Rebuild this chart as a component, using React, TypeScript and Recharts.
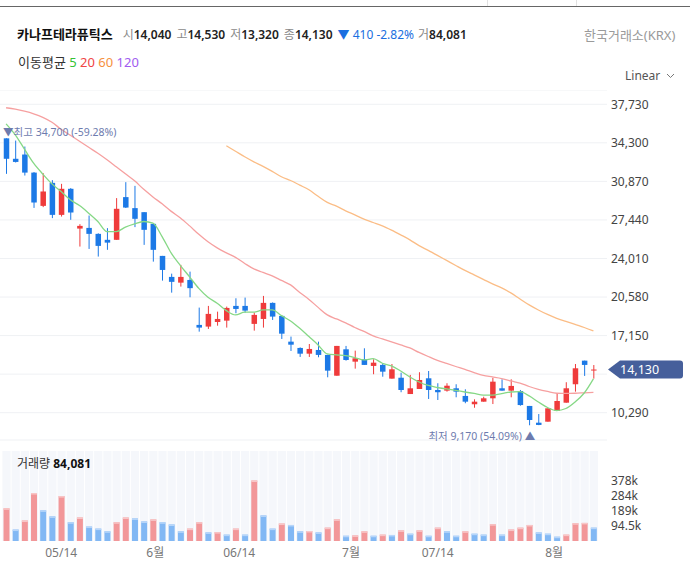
import { ComposedChart, Bar, Line, XAxis, YAxis, CartesianGrid, ReferenceDot, ReferenceLine } from 'recharts';

const RED = '#ef3b3b';
const BLUE = '#1c79e6';
const FONT = '"Noto Sans", "Noto Sans CJK KR", sans-serif';

const opens = [34700, 32880, 33260, 31650, 28690, 30740, 27890, 30210, 26670, 26730, 26200, 25670, 25670, 29470, 28490, 28130, 27090, 24240, 22370, 21860, 22100, 18100, 17950, 18360, 18480, 19790, 19790, 18190, 18630, 20060, 18900, 16610, 16050, 15540, 15870, 15430, 13580, 15930, 14830, 15040, 14450, 14540, 13320, 13400, 11950, 12400, 13350, 12310, 12250, 12460, 11780, 11040, 11270, 11570, 12460, 12250, 12220, 10890, 9400, 9490, 10440, 11180, 12820, 14920, 14040];
const highs = [34700, 34500, 33970, 31700, 31600, 30980, 30650, 30270, 27060, 27830, 26250, 26710, 29380, 30800, 30470, 28130, 27090, 24240, 22660, 23440, 22840, 19640, 19790, 19280, 19730, 20470, 20530, 19190, 20680, 20100, 18950, 17060, 16100, 16400, 16610, 15450, 16230, 16230, 15810, 16020, 15040, 14690, 14620, 13850, 13650, 13890, 14000, 12910, 12910, 12820, 12370, 11480, 11710, 13400, 13260, 13260, 12310, 10890, 10170, 10680, 12020, 13000, 14620, 14920, 14530];
const lows = [31540, 32550, 31390, 28510, 28580, 27600, 27740, 27450, 25070, 24860, 24180, 24780, 25670, 28500, 26800, 25220, 23730, 22040, 20970, 21510, 20560, 17500, 17740, 18030, 17860, 19140, 19190, 17590, 17860, 18540, 16850, 15780, 15250, 15250, 15220, 13440, 13580, 14920, 14210, 14540, 13710, 13490, 13320, 12110, 11950, 12400, 11510, 11420, 12160, 11660, 11130, 10730, 11270, 11060, 12250, 11660, 10910, 9170, 9180, 9490, 10440, 11180, 12160, 13560, 13320];
const closes = [32880, 32600, 31650, 28990, 29970, 27890, 30210, 28100, 26910, 26200, 25130, 25420, 28430, 28540, 27540, 26560, 24780, 22990, 21930, 22370, 21370, 17860, 19080, 18630, 19610, 19520, 19370, 18990, 20060, 18840, 17320, 16340, 15540, 15960, 15430, 14030, 16230, 14980, 15130, 14540, 14740, 13940, 14150, 12310, 12460, 13200, 12310, 12110, 12690, 12160, 11270, 11270, 11570, 13050, 12250, 12670, 10970, 9640, 9200, 10680, 11330, 12460, 14240, 14540, 14130];
const volumes = [206000, 72000, 129000, 302000, 193000, 155000, 283000, 118000, 148000, 91000, 78000, 61000, 118000, 148000, 142000, 123000, 136000, 118000, 104000, 61000, 78000, 118000, 54000, 56000, 40000, 78000, 40000, 381000, 161000, 78000, 110000, 101000, 61000, 63000, 54000, 84000, 136000, 33000, 35000, 61000, 33000, 40000, 38000, 67000, 46000, 67000, 33000, 84000, 61000, 33000, 61000, 46000, 40000, 106000, 40000, 72000, 84000, 101000, 54000, 46000, 27000, 40000, 112000, 114000, 84081];

const ma5 = [35990, 35010, 33740, 32490, 31520, 30650, 29970, 29230, 28720, 28040, 27300, 26400, 26400, 26800, 27090, 27300, 27150, 25960, 24480, 23380, 22370, 21350, 20560, 20030, 19370, 18990, 19230, 19230, 19430, 19430, 18930, 18450, 17800, 17060, 16320, 15520, 15430, 15360, 15190, 14980, 15100, 14690, 14450, 14000, 13470, 13020, 12710, 12530, 12400, 12270, 12130, 12000, 11860, 11860, 11980, 12130, 12160, 11780, 11240, 10750, 10480, 10660, 11240, 12040, 13300];
const ma20 = [37420, 37290, 37110, 36880, 36570, 36130, 35500, 34970, 34440, 33900, 33370, 32790, 32170, 31540, 30920, 30160, 29490, 28870, 28200, 27620, 26910, 26160, 25490, 24950, 24510, 24110, 23570, 23080, 22770, 22460, 22060, 21660, 20990, 20370, 19660, 18990, 18630, 18280, 17870, 17520, 17120, 16850, 16580, 16320, 16050, 15650, 15290, 14950, 14670, 14400, 14140, 13850, 13600, 13470, 13330, 13110, 12930, 12620, 12370, 12180, 12020, 12000, 12020, 12060, 12100];
const ma60Start = 24;
const ma60 = [34040, 33550, 33060, 32610, 32210, 31760, 31280, 30950, 30540, 30120, 29540, 29000, 28670, 28250, 27890, 27510, 27210, 26910, 26530, 26110, 25670, 25150, 24730, 24290, 23840, 23390, 22950, 22550, 22150, 21750, 21390, 20950, 20410, 19880, 19430, 19030, 18690, 18410, 18140, 17870, 17560];

const priceTicks = [10290, 13720, 17150, 20580, 24010, 27440, 30870, 34300, 37730];
const volTicks = [94500, 189000, 283500, 378000];
const dateTicks = [6.4, 16.5, 25.5, 37.5, 46.8, 59.3];
const dateLabels = ['05/14', '6월', '06/14', '7월', '07/14', '8월'];

const rows = opens.map((o, i) => ({
  i,
  open: o,
  high: highs[i],
  low: lows[i],
  close: closes[i],
  vol: volumes[i],
  volUp: i === 0 || volumes[i] >= volumes[i - 1],
  ma5: ma5[i],
  ma20: ma20[i],
  ma60: i >= ma60Start ? ma60[i - ma60Start] : null,
}));

const last = rows[rows.length - 1];
const prev = rows[rows.length - 2];
const hiIdx = highs.indexOf(Math.max(...highs));
const loIdx = lows.indexOf(Math.min(...lows));
const pct = (v: number) => ((last.close / v - 1) * 100).toFixed(2);
const fmt = (v: number) => v.toLocaleString('en-US');

function Candle(props: any) {
  const { x, y, width, height, payload } = props;
  const top = Math.min(y, y + height);
  const h = Math.abs(height);
  const span = payload.high - payload.low || 1;
  const py = (v: number) => top + ((payload.high - v) / span) * h;
  const color = payload.close >= payload.open ? RED : BLUE;
  const cx = x + width / 2;
  const bTop = py(Math.max(payload.open, payload.close));
  const bBot = py(Math.min(payload.open, payload.close));
  return (
    <g>
      <line x1={cx} x2={cx} y1={top} y2={top + h} stroke={color} strokeWidth={1} />
      <rect x={x + 0.25} y={bTop} width={width - 0.5} height={Math.max(1, bBot - bTop)} fill={color} />
    </g>
  );
}

function VolBar(props: any) {
  const { x, y, width, height, payload } = props;
  const up = payload.volUp;
  return (
    <g>
      <rect x={x} y={y} width={width} height={height} fill={up ? '#f29799' : '#82b8f4'} />
      <rect x={x} y={y} width={width} height={1.5} fill={up ? '#f8c6c7' : '#b7d6fa'} />
    </g>
  );
}

function Stripe(props: any) {
  const { x, y, width, height } = props;
  return <rect x={x - 1.1} y={y} width={width + 2.2} height={height} fill="#f5f7fb" />;
}

function PriceTag(props: any) {
  const { viewBox } = props;
  const x = viewBox.x + viewBox.width + 1;
  const cy = viewBox.y;
  const d = `M${x},${cy} L${x + 12},${cy - 9} L${x + 72},${cy - 9} Q${x + 75},${cy - 9} ${x + 75},${cy - 6} L${x + 75},${cy + 6} Q${x + 75},${cy + 9} ${x + 72},${cy + 9} L${x + 12},${cy + 9} Z`;
  return (
    <g>
      <path d={d} fill="#465f9b" />
      <text x={x + 12} y={cy} dy="0.36em" fill="#fff" fontSize={12.5}>{fmt(last.close)}</text>
    </g>
  );
}

const HighMark = (p: any) => (
  <text x={p.cx - 3} y={p.cy - 2} fill="#6d7bae" fontSize={10.5}>{`▼최고 ${fmt(highs[hiIdx])} (${pct(highs[hiIdx])}%)`}</text>
);
const LowMark = (p: any) => (
  <text x={p.cx + 6} y={p.cy + 15} fill="#6d7bae" fontSize={10.5} textAnchor="end">{`최저 ${fmt(lows[loIdx])} (${pct(lows[loIdx])}%) ▲`}</text>
);

const volLabel = (v: number) => (v < 100000 ? (v / 1000).toFixed(1) : Math.round(v / 1000)) + 'k';
// the last-price tag sits over the tick next to it
const priceLabel = (v: number) => (Math.abs(v - last.close) < 1200 ? '' : fmt(v));

export default function App() {
  const chg = last.close - prev.close;
  const gray = { color: '#8a8a8a', fontWeight: 400 };
  const num = { color: '#222', fontWeight: 600, marginRight: 5 };
  return (
    <div style={{ position: 'absolute', left: 0, top: 0, width: 690, height: 575, background: '#fff', fontFamily: FONT, fontSize: 12, overflow: 'hidden' }}>
      <div style={{ position: 'absolute', left: 0, top: 6, width: 690, height: 1, background: '#666' }} />
      <div style={{ position: 'absolute', left: 487, top: 0, width: 1, height: 6, background: '#e2e2e2' }} />
      <div style={{ position: 'absolute', left: 576, top: 0, width: 1, height: 6, background: '#e2e2e2' }} />

      <div style={{ position: 'absolute', left: 17, top: 26, lineHeight: '16px', whiteSpace: 'nowrap' }}>
        <span style={{ fontWeight: 700, color: '#111', marginRight: 10, fontSize: 13 }}>카나프테라퓨틱스</span>
        <span style={gray}>시</span><span style={num}>{fmt(last.open)}</span>
        <span style={gray}>고</span><span style={num}>{fmt(last.high)}</span>
        <span style={gray}>저</span><span style={num}>{fmt(last.low)}</span>
        <span style={gray}>종</span><span style={num}>{fmt(last.close)}</span>
        <span style={{ color: '#1a6fe0', marginRight: 4 }}>{`▼ ${fmt(Math.abs(chg))} ${((chg / prev.close) * 100).toFixed(2)}%`}</span>
        <span style={gray}>거</span><span style={num}>{fmt(last.vol)}</span>
      </div>
      <div style={{ position: 'absolute', left: 584, top: 27, lineHeight: '16px', color: '#9a9a9a', fontSize: 13 }}>한국거래소(KRX)</div>
      <div style={{ position: 'absolute', left: 18, top: 54, lineHeight: '16px', color: '#333', whiteSpace: 'pre', fontSize: 13 }}>
        이동평균 <span style={{ color: '#34c234' }}>5</span> <span style={{ color: '#f04545' }}>20</span> <span style={{ color: '#f6913e' }}>60</span> <span style={{ color: '#a05cf0' }}>120</span>
      </div>
      <div style={{ position: 'absolute', left: 625, top: 68, lineHeight: '16px', color: '#555' }}>Linear</div>
      <svg style={{ position: 'absolute', left: 666, top: 73 }} width={9} height={6}>
        <polyline points="1,1 4.5,4.5 8,1" fill="none" stroke="#777" strokeWidth={1} />
      </svg>

      <div style={{ position: 'absolute', left: 0, top: 90 }}>
        <ComposedChart width={690} height={360} data={rows} margin={{ top: 0, right: 0, bottom: 10, left: 0 }} barCategoryGap={0}>
          <CartesianGrid vertical={false} stroke="#eff1f4" />
          <XAxis dataKey="i" hide height={0} padding={{ left: 1.5, right: 9 }} />
          <YAxis orientation="right" width={83} domain={[7860, 39000]} ticks={priceTicks} allowDataOverflow interval={0}
            axisLine={false} tickLine={false} tickSize={0} tickMargin={4} tick={{ fill: '#444', fontSize: 12 }} tickFormatter={priceLabel} />
          <Bar dataKey={(d: any) => [d.low, d.high]} barSize={6} shape={<Candle />} isAnimationActive={false} />
          <Line dataKey="ma60" stroke="#fbbd86" strokeWidth={1.3} dot={false} type="monotone" isAnimationActive={false} />
          <Line dataKey="ma20" stroke="#f6a0a0" strokeWidth={1.3} dot={false} type="monotone" isAnimationActive={false} />
          <Line dataKey="ma5" stroke="#86d886" strokeWidth={1.3} dot={false} type="monotone" isAnimationActive={false} />
          <ReferenceDot x={hiIdx} y={highs[hiIdx]} r={1} shape={HighMark} />
          <ReferenceDot x={loIdx} y={lows[loIdx]} r={1} shape={LowMark} />
          <ReferenceLine y={last.close} stroke="none" strokeOpacity={0} label={<PriceTag />} />
        </ComposedChart>
      </div>

      <div style={{ position: 'absolute', left: 0, top: 451 }}>
        <ComposedChart width={690} height={115} data={rows} margin={{ top: 0, right: 0, bottom: 0, left: 0 }} barCategoryGap={0}>
          <XAxis dataKey="i" hide height={0} padding={{ left: 1.5, right: 9 }} />
          <XAxis xAxisId="d" type="number" domain={[-0.5, 64.5]} allowDataOverflow ticks={dateTicks} interval={0} padding={{ left: 1.5, right: 9 }}
            height={25} axisLine={false} tickLine={false} tickSize={0} tickMargin={7} tick={{ fill: '#777', fontSize: 12 }}
            tickFormatter={(v: number) => dateLabels[dateTicks.indexOf(v)]} />
          <YAxis orientation="right" width={83} domain={[0, 567000]} ticks={volTicks} allowDataOverflow interval={0}
            axisLine={false} tickLine={false} tickSize={0} tickMargin={4} tick={{ fill: '#444', fontSize: 12 }} tickFormatter={volLabel} />
          <Bar dataKey="vol" barSize={6} shape={<VolBar />} background={<Stripe />} isAnimationActive={false} />
        </ComposedChart>
      </div>
      <div style={{ position: 'absolute', left: 17, top: 456, lineHeight: '16px', color: '#333' }}>
        거래량 <span style={{ fontWeight: 700, color: '#111' }}>{fmt(last.vol)}</span>
      </div>
    </div>
  );
}
